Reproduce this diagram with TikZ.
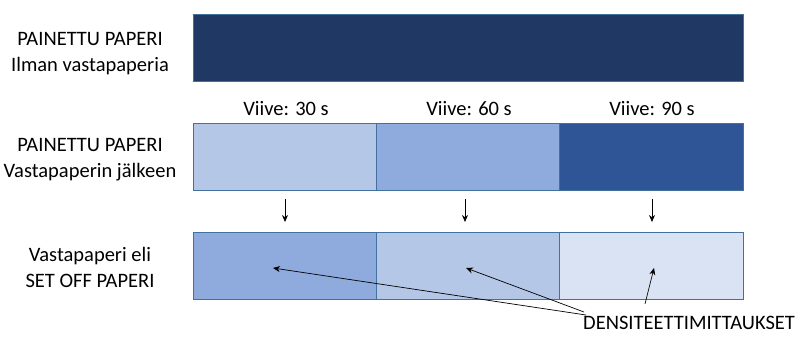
\documentclass[tikz,border=0pt]{standalone}
\usepackage{fontspec}
\setmainfont{Carlito}
\usetikzlibrary{arrows.meta}
\definecolor{navy}{HTML}{203864}
\definecolor{c1}{HTML}{B4C7E7}
\definecolor{c2}{HTML}{8FAADC}
\definecolor{c3}{HTML}{2F5597}
\definecolor{c4}{HTML}{DAE3F3}
\definecolor{bd}{HTML}{41719C}
\begin{document}
\begin{tikzpicture}[x=1pt,y=-1pt,
  cell/.style={draw=bd,line width=1pt,minimum height=67pt,inner sep=0pt,anchor=north west},
  lbl/.style={font=\fontsize{20.5}{26}\selectfont,align=center,inner sep=0pt},
  arr/.style={-{Stealth[length=7pt,width=6pt]},line width=0.7pt}]
\useasboundingbox (0,0) rectangle (805,347);
\node[cell,fill=navy,minimum width=550pt] (top) at (193,14) {};
\node[cell,fill=c1,minimum width=183pt] (a1) at (193,123) {};
\node[cell,fill=c2,minimum width=183pt] (a2) at (376,123) {};
\node[cell,fill=c3,minimum width=184pt] (a3) at (559,123) {};
\node[cell,fill=c2,minimum width=183pt] (b1) at (193,232) {};
\node[cell,fill=c1,minimum width=183pt] (b2) at (376,232) {};
\node[cell,fill=c4,minimum width=184pt] (b3) at (559,232) {};
\node[lbl] (l1) at (90,54) {PAINETTU PAPERI\\Ilman vastapaperia};
\node[lbl] (l2) at (90,160) {PAINETTU PAPERI\\Vastapaperin jälkeen};
\node[lbl] (l3) at (90,267) {Vastapaperi eli\\SET OFF PAPERI};
\node[lbl] (v1) at (286,109) {Viive: 30 s};
\node[lbl] (v2) at (469,109) {Viive: 60 s};
\node[lbl] (v3) at (652,109) {Viive: 90 s};
\node[lbl,anchor=west] (d) at (583,323) {DENSITEETTIMITTAUKSET};
\coordinate (s1) at (285,199); \coordinate (e1) at (285,222);
\coordinate (s2) at (465,199); \coordinate (e2) at (465,222);
\coordinate (s3) at (652,199); \coordinate (e3) at (652,222);
\draw[arr] (s1) -- (e1);
\draw[arr] (s2) -- (e2);
\draw[arr] (s3) -- (e3);
\coordinate (m1) at (273,268); \coordinate (m2) at (466,268); \coordinate (m3) at (654,268);
\coordinate (f1) at (586,315); \coordinate (f2) at (584,312); \coordinate (f3) at (645,304);
\draw[arr] (f1) -- (m1);
\draw[arr] (f2) -- (m2);
\draw[arr] (f3) -- (m3);
\end{tikzpicture}
\end{document}
